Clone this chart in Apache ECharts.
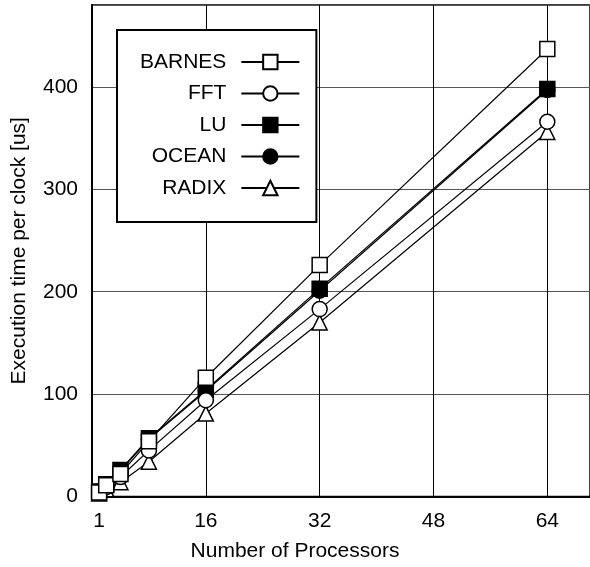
<!DOCTYPE html>
<html>
<head>
<meta charset="utf-8">
<script src="https://cdn.jsdelivr.net/npm/echarts@6/dist/echarts.min.js"></script>
<style>
  html, body { margin: 0; padding: 0; background: #fff; }
  #chart { width: 590px; height: 567px; }
</style>
</head>
<body>
<div id="chart"></div>
<script>
var processors = [1, 2, 4, 8, 16, 32, 64];
var xTickLabels = [1, 16, 32, 48, 64];

var barnes = [4, 11, 22, 54, 116, 226, 437];
var fft = [4, 9, 19, 45, 94, 183, 366];
var lu = [5, 12, 26, 57, 104, 203, 398];
var ocean = [5, 12, 25, 56, 103, 201, 397];
var radix = [3, 7, 14, 34, 81, 170, 356];

var FONT = 'Liberation Sans, Arial, sans-serif';

function pairs(ys) {
    return processors.map(function(x, i) { return [x, ys[i]]; });
}

function makeSeries(name, ys, symbol, filled, z) {
    return {
        name: name,
        type: 'line',
        data: pairs(ys),
        symbol: symbol,
        symbolSize: 15,
        z: z,
        lineStyle: { color: '#000', width: 1.2 },
        itemStyle: {
            color: filled ? '#000' : '#fff',
            borderColor: '#000',
            borderWidth: 1.5
        },
        emphasis: { disabled: true },
        animation: false
    };
}

var chart = echarts.init(document.getElementById('chart'));

var option = {
    animation: false,
    textStyle: { fontFamily: FONT },
    grid: {
        left: 92,
        top: 5,
        width: 501,
        height: 491.5,
        show: true,
        borderColor: '#000',
        borderWidth: 1.5,
        backgroundColor: '#fff'
    },
    legend: {
        orient: 'vertical',
        left: 117,
        top: 30,
        align: 'right',
        itemWidth: 58,
        itemHeight: 18,
        itemGap: 7.5,
        padding: [20, 16, 22, 23],
        backgroundColor: '#fff',
        borderColor: '#000',
        borderWidth: 2,
        textStyle: {
            fontFamily: FONT,
            fontSize: 21,
            color: '#000',
            lineHeight: 24,
            padding: [0, 10, 0, 0]
        },
        data: ['BARNES', 'FFT', 'LU', 'OCEAN', 'RADIX']
    },
    xAxis: {
        type: 'value',
        min: 0,
        max: 70,
        interval: 16,
        axisLine: { show: true, onZero: false, lineStyle: { color: '#000', width: 2 } },
        axisTick: { show: false },
        splitLine: { show: true, lineStyle: { color: '#000', width: 1 } },
        axisLabel: {
            customValues: xTickLabels,
            color: '#000',
            fontSize: 21,
            fontFamily: FONT,
            margin: 14
        }
    },
    yAxis: {
        type: 'value',
        min: 0,
        max: 480,
        interval: 100,
        name: 'Execution time per clock [us]',
        nameLocation: 'middle',
        nameGap: 62,
        nameTextStyle: { color: '#000', fontSize: 21, fontFamily: FONT },
        axisLine: { show: true, lineStyle: { color: '#000', width: 2 } },
        axisTick: { show: false },
        splitLine: { show: true, lineStyle: { color: '#555', width: 1 } },
        axisLabel: {
            showMaxLabel: false,
            color: '#000',
            fontSize: 21,
            fontFamily: FONT,
            margin: 14,
            padding: [6, 0, 0, 0]
        }
    },
    graphic: [{
        type: 'text',
        left: 'center',
        x: 0,
        style: {
            text: 'Number of Processors',
            x: 320,
            y: 551,
            align: 'center',
            verticalAlign: 'middle',
            fontSize: 21,
            fontFamily: FONT,
            fill: '#000'
        }
    }],
    series: [
        makeSeries('BARNES', barnes, 'rect', false, 6),
        makeSeries('FFT', fft, 'circle', false, 5),
        makeSeries('LU', lu, 'rect', true, 4),
        makeSeries('OCEAN', ocean, 'circle', true, 3),
        makeSeries('RADIX', radix, 'triangle', false, 2)
    ]
};

chart.setOption(option);
</script>
</body>
</html>
